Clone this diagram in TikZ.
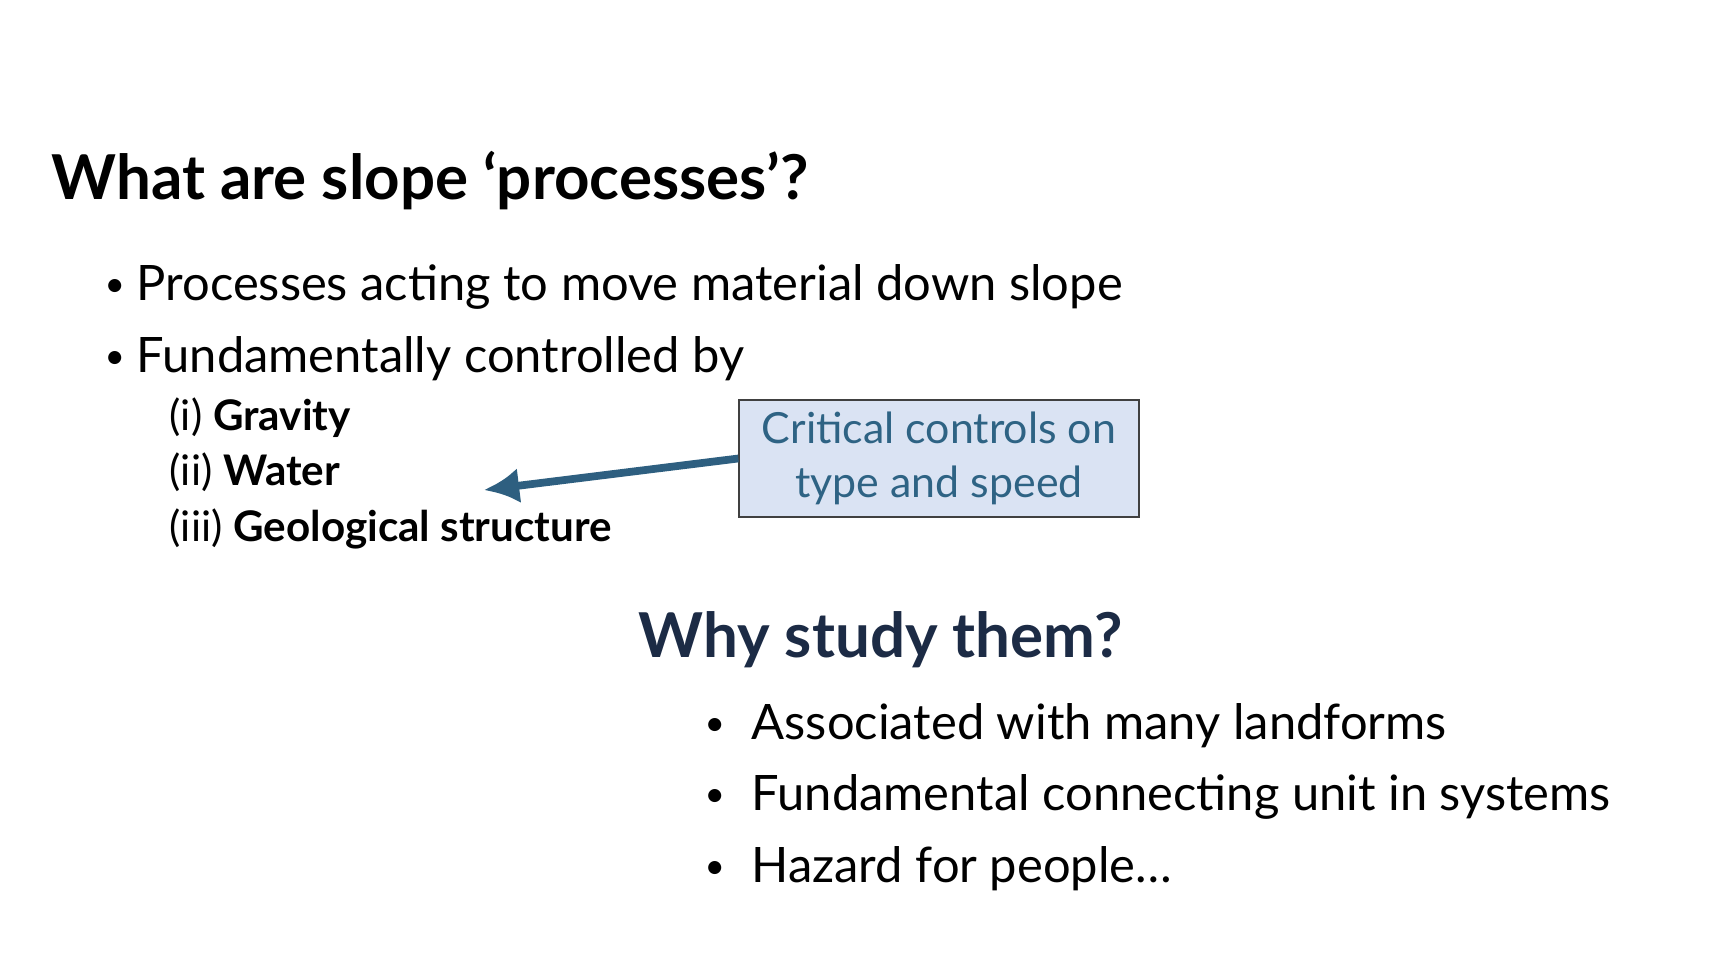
\documentclass[tikz,border=0pt]{standalone}
\usepackage{fontspec}
\usetikzlibrary{arrows.meta}
\setmainfont{Lato}
\definecolor{boxfill}{HTML}{DAE3F3}
\definecolor{boxtext}{HTML}{2E6384}
\definecolor{arrowc}{HTML}{2E5F80}
\definecolor{navy}{HTML}{1C2B45}
\tikzset{
  txt/.style={anchor=base west, inner sep=0pt},
  main/.style={txt, font=\fontsize{13.9}{17}\selectfont},
  sub/.style={txt, font=\fontsize{12}{15}\selectfont},
  dot/.style={txt, font=\fontsize{10}{12}\selectfont},
}
\begin{document}
\begin{tikzpicture}[x=0.2845pt,y=-0.2845pt]
\useasboundingbox (0,0) rectangle (1726,955);
\node[txt, font=\bfseries\fontsize{17.6}{21}\selectfont] (t1) at (51,200) {What are slope ‘processes’?};
\node[dot] (b1) at (104,297) {•};
\node[main] (p1) at (136,301) {Processes acting to move material down slope};
\node[dot] (b2) at (104,369) {•};
\node[main] (p2) at (136,373) {Fundamentally controlled by};
\node[sub] (s1) at (169,431) {(i) \textbf{Gravity}};
\node[sub] (s2) at (169,486) {(ii) \textbf{Water}};
\node[sub] (s3) at (169,542) {(iii) \textbf{Geological structure}};
\node[draw=black!75, fill=boxfill, minimum width=400*0.2845pt, minimum height=117*0.2845pt,
  text=boxtext, align=center, font=\fontsize{12.2}{15.5}\selectfont, inner sep=0pt] (box) at (939,458.5)
  {Critical controls on\\type and speed};
\coordinate (tip) at (484,490);
\draw[arrowc, line width=2.2pt, -{Latex[length=10pt,width=10pt]}] (box.west) -- (tip);
\node[txt, text=navy, font=\bfseries\fontsize{17.6}{21}\selectfont] (t2) at (638,657) {Why study them?};
\node[dot] (c1) at (704,735) {•};
\node[main] (q1) at (751,739) {Associated with many landforms};
\node[dot] (c2) at (704,806) {•};
\node[main] (q2) at (751,810) {Fundamental connecting unit in systems};
\node[dot] (c3) at (704,878) {•};
\node[main] (q3) at (751,882) {Hazard for people…};
\end{tikzpicture}
\end{document}
